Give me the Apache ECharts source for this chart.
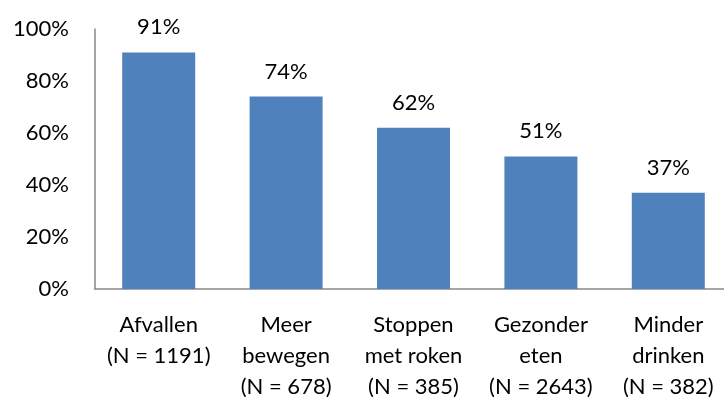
<!DOCTYPE html>
<html><head><meta charset="utf-8">
<script src="https://cdn.jsdelivr.net/npm/echarts@6/dist/echarts.min.js"></script>
<style>html,body{margin:0;padding:0;background:#fff}#c{width:724px;height:401px}</style>
</head><body><div id="c"></div>
<script>
const categories = ["Afvallen\n(N = 1191)", "Meer\nbewegen\n(N = 678)", "Stoppen\nmet roken\n(N = 385)", "Gezonder\neten\n(N = 2643)", "Minder\ndrinken\n(N = 382)"];
const values = [91, 74, 62, 51, 37];
const yTicks = [0, 20, 40, 60, 80, 100];

const font = 'Lato';
const fs = 22;
const chart = echarts.init(document.getElementById('c'), null, {renderer: 'canvas'});
chart.setOption({
  animation: false,
  grid: {left: 95, top: 29, width: 637, height: 260, containLabel: false, outerBoundsMode: 'none'},
  xAxis: {
    type: 'category', data: categories,
    axisLine: {lineStyle: {color: '#898989', width: 1.5}},
    axisTick: {show: false},
    axisLabel: {color: '#000', fontFamily: font, fontSize: fs, lineHeight: 31, margin: 20, interval: 0}
  },
  yAxis: {
    type: 'value', min: yTicks[0], max: yTicks[yTicks.length - 1], interval: 20,
    axisLine: {show: true, lineStyle: {color: '#898989', width: 1.5}},
    axisTick: {show: false},
    splitLine: {show: false},
    axisLabel: {color: '#000', fontFamily: font, fontSize: fs, margin: 26, formatter: v => v + '%'}
  },
  series: [{
    type: 'bar', data: values, barWidth: 73,
    itemStyle: {color: '#4F81BD'},
    label: {show: true, position: 'top', distance: 14, color: '#000', fontFamily: font, fontSize: fs, formatter: p => p.value + '%'}
  }]
});
</script></body></html>
